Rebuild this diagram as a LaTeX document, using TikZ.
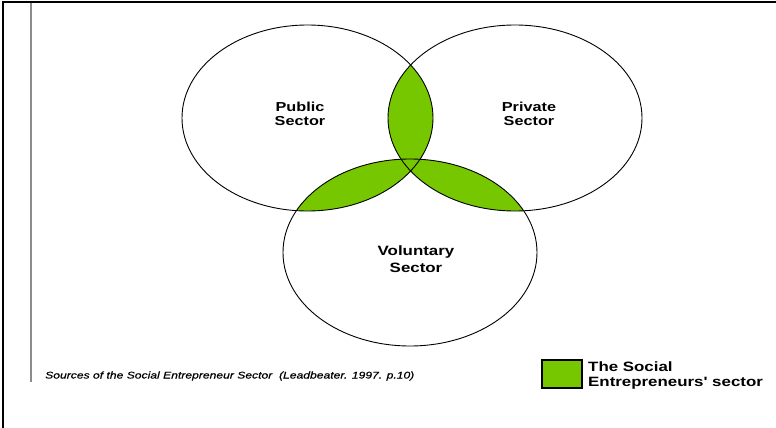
\documentclass[tikz,border=0pt]{standalone}
\usepackage{fontspec}
\setmainfont{Liberation Sans}
\newfontfamily\wide[FakeStretch=1.25]{Liberation Sans}
\newfontfamily\capfont[FakeStretch=1.25, FakeBold=0.6]{Liberation Sans}
\definecolor{sgreen}{RGB}{118,198,0}
\definecolor{rulegray}{RGB}{140,140,140}
\begin{document}
\begin{tikzpicture}[x=1pt,y=-1pt,
  pubshape/.style={insert path={(307.5,118) ellipse [x radius=125.5, y radius=93]}},
  prishape/.style={insert path={(515,118) ellipse [x radius=127, y radius=93]}},
  volshape/.style={insert path={(410,252.5) ellipse [x radius=127, y radius=93.5]}},
  sectorlbl/.style={font=\wide\bfseries\fontsize{13}{14}\selectfont, align=center, inner sep=0pt},
  vollbl/.style={font=\wide\bfseries\fontsize{13.5}{16.5}\selectfont, align=center, inner sep=0pt},
  legtxt/.style={font=\wide\bfseries\fontsize{13.5}{15}\selectfont, anchor=base west, inner sep=0pt},
  captxt/.style={font=\capfont\itshape\fontsize{9.7}{11}\selectfont, anchor=west, inner sep=0pt},
  ring/.style={draw=black, line width=0.9pt}]
\useasboundingbox (0,0) rectangle (776,428);
% frame lines
\draw[line width=1.5pt] (3,428) -- (3,2) -- (776,2);
\draw[rulegray, line width=1.2pt] (31,3) -- (31,382);
% overlaps
\begin{scope}
  \clip[pubshape];
  \fill[sgreen, prishape];
  \fill[sgreen, volshape];
\end{scope}
\begin{scope}
  \clip[prishape];
  \fill[sgreen, volshape];
\end{scope}
% outlines
\draw[ring, pubshape];
\draw[ring, prishape];
\draw[ring, volshape];
% labels
\node[sectorlbl] (pubL) at (300,114) {Public\\Sector};
\node[sectorlbl] (priL) at (529,114) {Private\\Sector};
\node[vollbl] (volL) at (416,259) {Voluntary\\Sector};
% caption
\node[captxt] (cap) at (45,376) {Sources of the Social Entrepreneur Sector\ \ (Leadbeater. 1997. p.10)};
% legend
\node[draw=black, fill=sgreen, line width=1.3pt, minimum width=40pt, minimum height=28pt, inner sep=0pt] (legbox) at (562,374) {};
\node[legtxt] (leg1) at (588,371) {The Social};
\node[legtxt] (leg2) at (588,386) {Entrepreneurs' sector};
\end{tikzpicture}
\end{document}
